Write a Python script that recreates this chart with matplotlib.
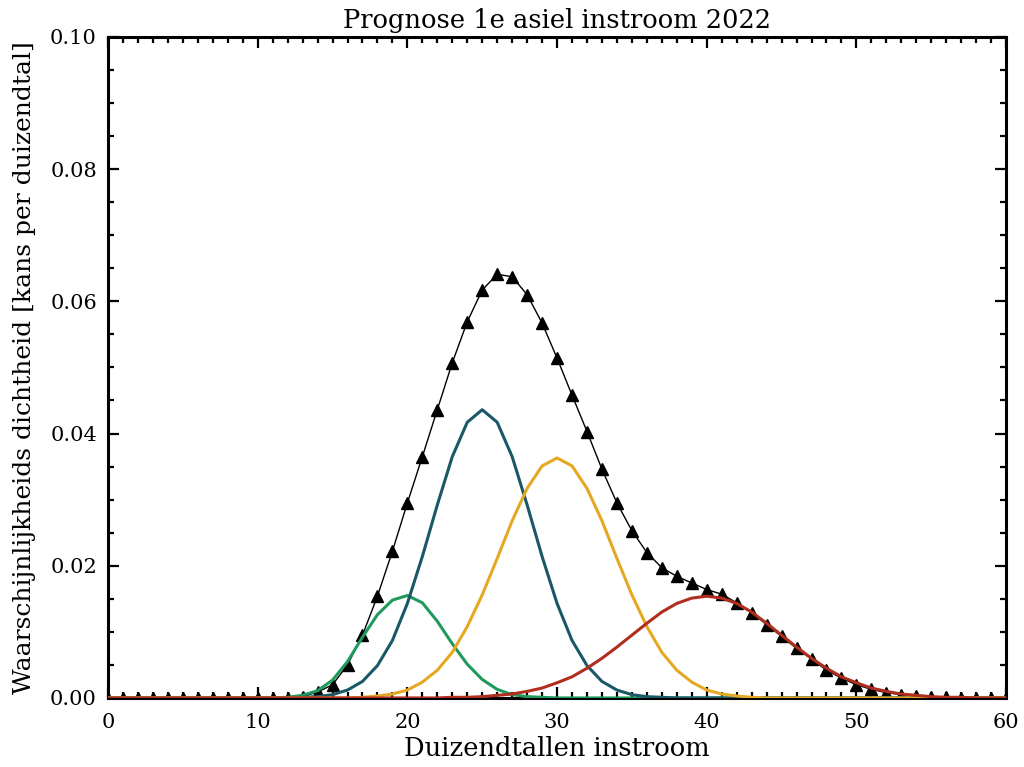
import matplotlib
matplotlib.use('Agg')
import matplotlib.pyplot as plt
import numpy as np
from matplotlib.ticker import MultipleLocator

# x = duizendtallen instroom (0..60), one value per integer
x = np.arange(0, 61)

total = [0.0] * 13 + [
    0.0002, 0.0009, 0.0020, 0.0050, 0.0095, 0.0154, 0.0222, 0.0295, 0.0365,
    0.0436, 0.0507, 0.0569, 0.0617, 0.0641, 0.0637, 0.0610, 0.0567, 0.0514,
    0.0458, 0.0403, 0.0346, 0.0295, 0.0253, 0.0220, 0.0197, 0.0184, 0.0174,
    0.0164, 0.0157, 0.0144, 0.0129, 0.0111, 0.0093, 0.0075, 0.0059, 0.0042,
    0.0030, 0.0020, 0.0013, 0.0008, 0.0005, 0.0003, 0.0002, 0.0001,
] + [0.0] * 4

green = [0.0] * 12 + [
    0.0001, 0.0004, 0.0011, 0.0027, 0.0055, 0.0092, 0.0126, 0.0148, 0.0155,
    0.0144, 0.0116, 0.0082, 0.0051, 0.0028, 0.0013, 0.0005, 0.0002, 0.0001,
] + [0.0] * 31

teal = [0.0] * 13 + [
    0.0001, 0.0002, 0.0005, 0.0012, 0.0025, 0.0049, 0.0087, 0.0143, 0.0214,
    0.0292, 0.0365, 0.0417, 0.0436, 0.0417, 0.0365, 0.0292, 0.0214, 0.0143,
    0.0087, 0.0049, 0.0025, 0.0012, 0.0005, 0.0002, 0.0001,
] + [0.0] * 23

orange = [0.0] * 17 + [
    0.0001, 0.0003, 0.0006, 0.0012, 0.0024, 0.0042, 0.0069, 0.0108, 0.0156,
    0.0211, 0.0268, 0.0317, 0.0351, 0.0363, 0.0351, 0.0317, 0.0268, 0.0211,
    0.0156, 0.0108, 0.0069, 0.0042, 0.0024, 0.0012, 0.0006, 0.0003, 0.0001,
] + [0.0] * 17

red = [0.0] * 23 + [
    0.0001, 0.0001, 0.0002, 0.0004, 0.0006, 0.0010, 0.0015, 0.0023, 0.0032,
    0.0045, 0.0060, 0.0077, 0.0095, 0.0113, 0.0130, 0.0143, 0.0151, 0.0154,
    0.0151, 0.0143, 0.0130, 0.0113, 0.0095, 0.0077, 0.0060, 0.0045, 0.0032,
    0.0023, 0.0015, 0.0010, 0.0006, 0.0004, 0.0002, 0.0001, 0.0001,
] + [0.0] * 3

plt.rcParams['font.family'] = ['DejaVu Serif']

fig = plt.figure(figsize=(10.24, 7.67), dpi=100)
ax = fig.add_axes([0.1055, 0.090, 0.877, 0.862])

ax.plot(x, total, color='black', lw=1.0, marker='^', ms=8, mfc='black', mec='black', zorder=2)
ax.plot(x, green, color='#1f9a5c', lw=2.2, zorder=3)
ax.plot(x, teal, color='#1a5868', lw=2.2, zorder=3)
ax.plot(x, orange, color='#e5a823', lw=2.2, zorder=3)
ax.plot(x, red, color='#b02e1e', lw=2.2, zorder=3)

ax.set_xlim(0, 60)
ax.set_ylim(0, 0.10)
ax.xaxis.set_major_locator(MultipleLocator(10))
ax.xaxis.set_minor_locator(MultipleLocator(1))
ax.yaxis.set_major_locator(MultipleLocator(0.02))
ax.yaxis.set_minor_locator(MultipleLocator(0.005))
ax.yaxis.set_major_formatter(matplotlib.ticker.FormatStrFormatter('%.2f'))

ax.tick_params(which='both', direction='in', top=True, right=True, width=1.6)
ax.tick_params(which='major', length=8, labelsize=15)
ax.tick_params(axis='x', which='major', pad=11)
ax.tick_params(axis='y', which='major', pad=8)
ax.tick_params(which='minor', length=4)
for s in ax.spines.values():
    s.set_linewidth(2.2)

ax.set_title('Prognose 1e asiel instroom 2022', fontsize=18.5, pad=6)
ax.set_xlabel('Duizendtallen instroom', fontsize=18.5, labelpad=3)
ax.set_ylabel('Waarschijnlijkheids dichtheid [kans per duizendtal]', fontsize=18, labelpad=10)

fig.savefig('out.png', dpi=100)
